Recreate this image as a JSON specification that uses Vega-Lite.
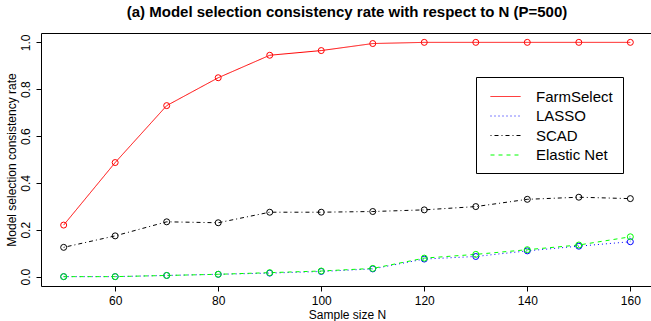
{
  "$schema": "https://vega.github.io/schema/vega-lite/v6.json",
  "width": 612,
  "height": 253,
  "autosize": {"type": "none"},
  "padding": {"left": 41, "top": 33, "right": 0, "bottom": 35},
  "background": "white",
  "config": {
    "font": "Liberation Sans",
    "view": {"stroke": "black", "strokeWidth": 1},
    "axis": {"grid": false, "domain": false, "tickColor": "black", "tickSize": 5, "labelColor": "black", "titleColor": "black", "labelFont": "Liberation Sans", "titleFont": "Liberation Sans", "labelFontSize": 12, "titleFontSize": 12, "titleFontWeight": "normal"}
  },
  "title": {"text": "(a) Model selection consistency rate with respect to N (P=500)", "fontSize": 15, "fontWeight": "bold", "font": "Liberation Sans", "color": "black", "anchor": "middle", "offset": 13},
  "data": {"values": [
    {"N": 50, "method": "FarmSelect", "rate": 0.22},
    {"N": 60, "method": "FarmSelect", "rate": 0.487},
    {"N": 70, "method": "FarmSelect", "rate": 0.73},
    {"N": 80, "method": "FarmSelect", "rate": 0.849},
    {"N": 90, "method": "FarmSelect", "rate": 0.945},
    {"N": 100, "method": "FarmSelect", "rate": 0.965},
    {"N": 110, "method": "FarmSelect", "rate": 0.995},
    {"N": 120, "method": "FarmSelect", "rate": 1.0},
    {"N": 130, "method": "FarmSelect", "rate": 1.0},
    {"N": 140, "method": "FarmSelect", "rate": 1.0},
    {"N": 150, "method": "FarmSelect", "rate": 1.0},
    {"N": 160, "method": "FarmSelect", "rate": 1.0},
    {"N": 50, "method": "LASSO", "rate": 0.0},
    {"N": 60, "method": "LASSO", "rate": 0.0},
    {"N": 70, "method": "LASSO", "rate": 0.005},
    {"N": 80, "method": "LASSO", "rate": 0.01},
    {"N": 90, "method": "LASSO", "rate": 0.015},
    {"N": 100, "method": "LASSO", "rate": 0.022},
    {"N": 110, "method": "LASSO", "rate": 0.033},
    {"N": 120, "method": "LASSO", "rate": 0.075},
    {"N": 130, "method": "LASSO", "rate": 0.086},
    {"N": 140, "method": "LASSO", "rate": 0.11},
    {"N": 150, "method": "LASSO", "rate": 0.13},
    {"N": 160, "method": "LASSO", "rate": 0.149},
    {"N": 50, "method": "SCAD", "rate": 0.125},
    {"N": 60, "method": "SCAD", "rate": 0.174},
    {"N": 70, "method": "SCAD", "rate": 0.234},
    {"N": 80, "method": "SCAD", "rate": 0.23},
    {"N": 90, "method": "SCAD", "rate": 0.275},
    {"N": 100, "method": "SCAD", "rate": 0.275},
    {"N": 110, "method": "SCAD", "rate": 0.278},
    {"N": 120, "method": "SCAD", "rate": 0.285},
    {"N": 130, "method": "SCAD", "rate": 0.299},
    {"N": 140, "method": "SCAD", "rate": 0.33},
    {"N": 150, "method": "SCAD", "rate": 0.339},
    {"N": 160, "method": "SCAD", "rate": 0.333},
    {"N": 50, "method": "Elastic Net", "rate": 0.0},
    {"N": 60, "method": "Elastic Net", "rate": 0.0},
    {"N": 70, "method": "Elastic Net", "rate": 0.005},
    {"N": 80, "method": "Elastic Net", "rate": 0.01},
    {"N": 90, "method": "Elastic Net", "rate": 0.017},
    {"N": 100, "method": "Elastic Net", "rate": 0.024},
    {"N": 110, "method": "Elastic Net", "rate": 0.035},
    {"N": 120, "method": "Elastic Net", "rate": 0.079},
    {"N": 130, "method": "Elastic Net", "rate": 0.095},
    {"N": 140, "method": "Elastic Net", "rate": 0.115},
    {"N": 150, "method": "Elastic Net", "rate": 0.135},
    {"N": 160, "method": "Elastic Net", "rate": 0.17}
  ]},
  "encoding": {
    "x": {"field": "N", "type": "quantitative", "title": "Sample size N",
      "scale": {"domain": [45.6, 164.4], "nice": false, "zero": false},
      "axis": {"values": [60, 80, 100, 120, 140, 160], "labelPadding": 4, "titlePadding": 3}},
    "y": {"field": "rate", "type": "quantitative", "title": "Model selection consistency rate",
      "scale": {"domain": [-0.04, 1.04], "nice": false, "zero": false},
      "axis": {"values": [0, 0.2, 0.4, 0.6, 0.8, 1.0], "format": ".1f", "labelAngle": -90, "labelAlign": "center", "labelBaseline": "bottom", "labelPadding": 4, "titlePadding": 1}},
    "color": {"field": "method", "type": "nominal",
      "scale": {"domain": ["FarmSelect", "LASSO", "SCAD", "Elastic Net"], "range": ["#FF0000", "#0000FF", "#000000", "#00FF00"]},
      "legend": {"title": null, "orient": "none", "legendX": 435, "legendY": 44, "symbolType": "M-1.6667,0H1.6667", "symbolSize": 324, "symbolStrokeWidth": 1, "symbolFillColor": "transparent", "labelFontSize": 15, "labelFont": "Liberation Sans", "labelColor": "black", "labelOffset": 21, "padding": 10, "symbolOffset": 10, "rowPadding": 1.5, "strokeColor": "black", "fillColor": "white",
        "encode": {"symbols": {"update": {"stroke": {"scale": "color", "field": "value"}, "fill": {"value": "transparent"}}}}}}
  },
  "layer": [
    {
      "mark": {"type": "line", "strokeWidth": 1},
      "encoding": {
        "strokeDash": {"field": "method", "type": "nominal", "title": null,
          "scale": {"domain": ["FarmSelect", "LASSO", "SCAD", "Elastic Net"], "range": [[1, 0], [1, 3], [1, 3, 4, 3], [4, 4]]}}
      }
    },
    {
      "mark": {"type": "point", "shape": "circle", "filled": false, "size": 36, "strokeWidth": 1, "opacity": 1}
    }
  ]
}
